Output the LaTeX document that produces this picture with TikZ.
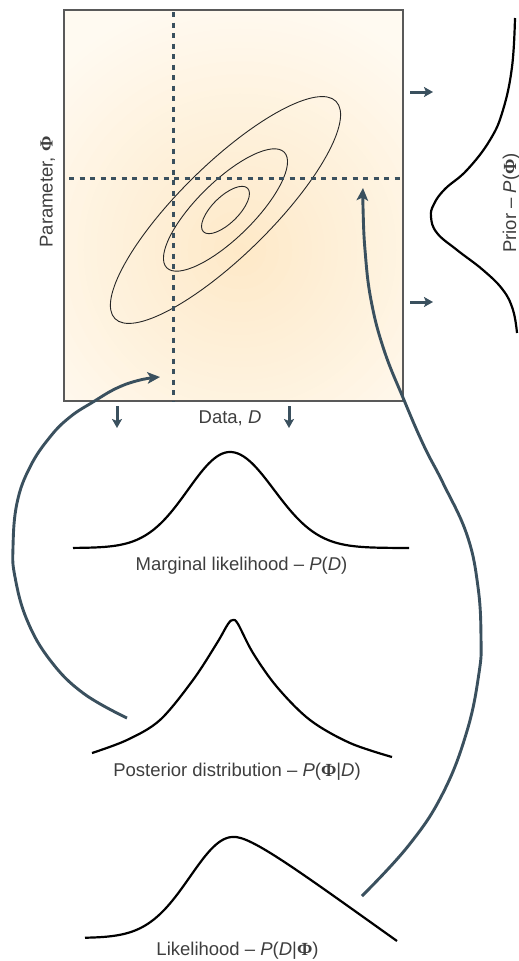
\documentclass[tikz,border=0pt]{standalone}
\usepackage[no-math]{fontspec}
\setmainfont{Liberation Sans}
\newfontfamily\phifont{Liberation Serif}
\usetikzlibrary{arrows.meta}
\definecolor{slate}{RGB}{58,80,94}
\definecolor{txt}{RGB}{62,62,62}
\definecolor{bgin}{RGB}{254,233,200}
\definecolor{bgout}{RGB}{255,250,241}
\newcommand{\PhiG}{{\phifont\bfseries Φ}}
\begin{document}
\begin{tikzpicture}[x=1pt,y=-1pt,
  lbl/.style={font=\fontsize{18.5}{22}\selectfont, text=txt, inner sep=0pt, anchor=base},
  shortarrow/.style={draw=slate, line width=3pt, -{Stealth[length=9pt,width=10pt,inset=2pt]}},
  bigarrow/.style={draw=slate, line width=2.9pt, -{Stealth[length=12.5pt,width=11.5pt,inset=3pt]}},
  dist/.style={draw=black, line width=2.2pt},
  contour/.style={draw=black!85, line width=0.9pt},
  guide/.style={draw=slate, line width=3pt, dash pattern=on 5pt off 5.5pt}]
\useasboundingbox (0,0) rectangle (519,961);
% square with soft radial background
\coordinate (sqTL) at (64,10);
\coordinate (sqBR) at (403,401);
\coordinate (bgc) at (240,250);
\begin{scope}
  \clip (sqTL) rectangle (sqBR);
  \fill[bgout] (sqTL) rectangle (sqBR);
  \foreach \i in {0,...,39}{
    \pgfmathsetmacro\rr{260*(1-\i/40)}
    \pgfmathtruncatemacro\pp{100*\i/39}
    \fill[bgin!\pp!bgout] (bgc) circle (\rr);
  }
\end{scope}
\draw[draw=black!65, line width=1.2pt] (sqTL) rectangle (sqBR);
% contours
\coordinate (ec) at (225.5,210);
\draw[contour, rotate around={44.5:(ec)}] (ec) ellipse [x radius=155, y radius=45.6];
\draw[contour, rotate around={44.5:(ec)}] (ec) ellipse [x radius=82.4, y radius=28.3];
\draw[contour, rotate around={44.5:(ec)}] (ec) ellipse [x radius=31, y radius=13.2];
% dashed guides
\coordinate (vtop) at (173.5,12);
\coordinate (vbot) at (173.5,401);
\coordinate (hleft) at (69,178);
\coordinate (hright) at (403,178);
\draw[guide] (vtop) -- (vbot);
\draw[guide] (hleft) -- (hright);
% short arrows
\coordinate (r1s) at (410,92);  \coordinate (r1e) at (433,92);
\coordinate (r2s) at (410,302); \coordinate (r2e) at (433,302);
\coordinate (d1s) at (117,406); \coordinate (d1e) at (117,428);
\coordinate (d2s) at (289,406); \coordinate (d2e) at (289,428);
\draw[shortarrow] (r1s) -- (r1e);
\draw[shortarrow] (r2s) -- (r2e);
\draw[shortarrow] (d1s) -- (d1e);
\draw[shortarrow] (d2s) -- (d2e);
% prior curve
\draw[dist] plot[smooth, tension=0.7] coordinates {(515,18) (512,67) (503,110) (490,140) (467,170) (445,189) (434,204) (431,217) (437,233) (457,250) (483,270) (503,290) (513,310) (517,333)};
% marginal likelihood
\draw[dist] plot[domain=73:230, samples=60, smooth] (\x, {548 - 96*exp(-0.5*((\x-230)/42)^2)})
            -- plot[domain=230:409, samples=70, smooth] (\x, {548 - 96*exp(-0.5*((\x-230)/44)^2)});
% posterior
\draw[dist] plot[smooth, tension=0.55] coordinates {(92,753) (127,740) (160,720) (193,680) (217,643) (228,624) (233,620) (238,624) (253,653) (277,687) (310,720) (350,743) (392,757)};
% likelihood
\draw[dist] plot[domain=85:233, samples=60, smooth] (\x, {938 - 101*exp(-0.5*((\x-233)/43)^2)})
            .. controls (250,835) and (300,872) .. (397,941);
% big arcs
\draw[bigarrow] plot[smooth, tension=0.7] coordinates {(127,718) (83,693) (50,660) (27,620) (15,577) (13,547) (17,503) (30,467) (50,437) (70,417) (93,402) (117,388) (140,380) (160,377)};
\draw[bigarrow] plot[smooth, tension=0.7] coordinates {(362,896) (409,845) (443,793) (467,731) (479,673) (481,638) (478,587) (467,535) (443,483) (424,446) (404,400) (384,350) (371,300) (365,250) (363,207) (363,188)};
% labels
\node[lbl] (data) at (230,423) {Data, \textit{D}};
\node[lbl] (marg) at (241.5,570) {Marginal likelihood – \textit{P}(\textit{D})};
\node[lbl] (post) at (237,776) {Posterior distribution – \textit{P}(\PhiG|\textit{D})};
\node[lbl] (lik) at (237.5,955) {Likelihood – \textit{P}(\textit{D}|\PhiG)};
\node[lbl, rotate=90] (prior) at (516,203) {Prior – \textit{P}(\PhiG)};
\node[lbl, rotate=90] (param) at (52.5,192) {Parameter, \PhiG};
\end{tikzpicture}
\end{document}
